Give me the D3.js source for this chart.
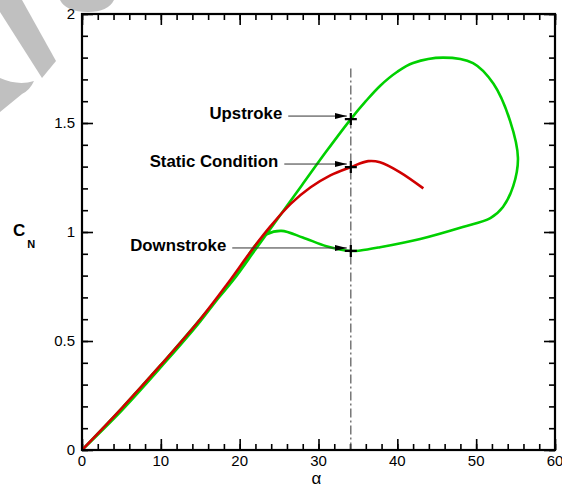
<!DOCTYPE html>
<html>
<head>
<meta charset="utf-8">
<script src="https://cdn.jsdelivr.net/npm/d3@7"></script>
<style>
  html, body { margin: 0; padding: 0; background: #fff; }
  svg { display: block; font-family: Arial, "Liberation Sans", sans-serif; }
</style>
</head>
<body>
<div id="chart"></div>
<script>
// static (red) curve
const staticAlpha = [0, 5, 10, 15, 18.4, 21.6, 24, 26.5, 29, 31.5, 34.1, 36.3, 37.8, 40.3, 43.3];
const staticCN = [0, 0.19, 0.39, 0.60, 0.76, 0.92, 1.03, 1.13, 1.205, 1.26, 1.298, 1.325, 1.32, 1.275, 1.20];

// dynamic (green) loop: upstroke then downstroke
const dynAlpha = [0, 5, 10, 15, 19.2, 22, 25, 28, 31, 34.1, 36, 37.8, 40, 42, 45.8, 49.6, 52.2, 54.3, 55.3,
  54.7, 53.4, 51.8, 48.3, 42.9, 37.8, 35.3, 34.1, 31, 28, 25.3, 23.5, 22, 20, 15, 10, 5, 0];
const dynCN = [0, 0.19, 0.39, 0.60, 0.78, 0.92, 1.07, 1.22, 1.37, 1.518, 1.60, 1.67, 1.735, 1.775, 1.80, 1.775, 1.68, 1.51, 1.34,
  1.21, 1.115, 1.064, 1.023, 0.968, 0.93, 0.915, 0.913, 0.935, 0.975, 1.005, 0.99, 0.94, 0.83, 0.59, 0.38, 0.18, 0];

// annotations
const annLabels = ["Upstroke", "Static Condition", "Downstroke"];
const annCN = [1.518, 1.298, 0.913];
const annTextEnd = [25.4, 24.9, 18.3]; // alpha where label text ends
const refAlpha = 34.1;
const refTop = 1.75;

const xTicks = [0, 10, 20, 30, 40, 50, 60];
const yTicks = [0, 0.5, 1, 1.5, 2];

const width = 562, height = 487;
const margin = { top: 14, right: 7, bottom: 37, left: 82 };

const svg = d3.select("#chart").append("svg")
  .attr("width", width)
  .attr("height", height);

// watermark shapes in background
const wm = svg.append("g").attr("fill", "#c0c0c0");
wm.append("path").attr("d", "M0,0 L22,0 L56,61 L42,78 L0,12 Z");
wm.append("path").attr("d", "M0,78 Q18,86 34,81 Q30,90 22,94 L0,112 Z");
wm.append("path").attr("d", "M60,0 L114,0 Q108,12 88,12 Q66,12 60,0 Z");

const x = d3.scaleLinear().domain([0, 60]).range([margin.left, width - margin.right]);
const y = d3.scaleLinear().domain([0, 2]).range([height - margin.bottom, margin.top]);

const x0 = x(0), x1 = x(60), y0 = y(0), y1 = y(2);

// ticks on all four sides, pointing inward
function tickAxis(axisFn, scale, pos, major, minorStep) {
  const minors = d3.range(scale.domain()[0], scale.domain()[1] + 1e-9, minorStep);
  const g = svg.append("g").attr("transform", pos);
  g.call(axisFn(scale).tickValues(minors).tickSize(-6).tickFormat(""));
  g.call(ga => ga.selectAll(".domain").remove());
  const g2 = svg.append("g").attr("transform", pos);
  g2.call(axisFn(scale).tickValues(major).tickSize(-11).tickFormat(""));
  g2.call(ga => ga.selectAll(".domain").remove());
  svg.selectAll(".tick line").attr("stroke", "#000").attr("stroke-width", 1.6);
}
tickAxis(d3.axisBottom, x, `translate(0,${y0})`, xTicks, 2);
tickAxis(d3.axisTop, x, `translate(0,${y1})`, xTicks, 2);
tickAxis(d3.axisLeft, y, `translate(${x0},0)`, yTicks, 0.1);
tickAxis(d3.axisRight, y, `translate(${x1},0)`, yTicks, 0.1);

// tick labels
svg.append("g").selectAll("text").data(xTicks).join("text")
  .attr("x", d => x(d)).attr("y", y0 + 16)
  .attr("text-anchor", "middle").attr("font-size", 15).attr("fill", "#000")
  .text(d => d);
svg.append("g").selectAll("text").data(yTicks).join("text")
  .attr("x", x0 - 7).attr("y", d => y(d) + 5)
  .attr("text-anchor", "end").attr("font-size", 15).attr("fill", "#000")
  .text(d => d);

// axis titles
svg.append("text").attr("x", x(30) - 2).attr("y", 484)
  .attr("text-anchor", "middle").attr("font-size", 17).text("α");
const cn = svg.append("text").attr("x", 13).attr("y", 236).attr("font-weight", "bold").attr("font-size", 17);
cn.append("tspan").text("C");
cn.append("tspan").attr("dx", 2).attr("dy", 12).attr("font-size", 11).text("N");

// reference dash-dot line
svg.append("line")
  .attr("x1", x(refAlpha)).attr("x2", x(refAlpha))
  .attr("y1", y(refTop)).attr("y2", y0)
  .attr("stroke", "#555").attr("stroke-width", 1.2)
  .attr("stroke-dasharray", "9,3,2,3");

const line = d3.line().curve(d3.curveCatmullRom.alpha(0.5));

svg.append("path")
  .attr("d", line(dynAlpha.map((a, i) => [x(a), y(dynCN[i])])))
  .attr("fill", "none").attr("stroke", "#00d000").attr("stroke-width", 2.6);

svg.append("path")
  .attr("d", line(staticAlpha.map((a, i) => [x(a), y(staticCN[i])])))
  .attr("fill", "none").attr("stroke", "#d00000").attr("stroke-width", 2.6);

// annotation arrows and labels
svg.append("defs").append("marker")
  .attr("id", "arrow").attr("viewBox", "0 0 12 8")
  .attr("refX", 12).attr("refY", 4)
  .attr("markerWidth", 12).attr("markerHeight", 8)
  .attr("markerUnits", "userSpaceOnUse").attr("orient", "auto")
  .append("path").attr("d", "M0,1 L12,4 L0,7 Z").attr("fill", "#000");

annLabels.forEach((lab, i) => {
  const py = y(annCN[i]);
  svg.append("text")
    .attr("x", x(annTextEnd[i])).attr("y", py)
    .attr("text-anchor", "end").attr("font-weight", "bold").attr("font-size", 16.8)
    .text(lab);
  svg.append("line")
    .attr("x1", x(annTextEnd[i]) + 6).attr("x2", x(refAlpha) - 4)
    .attr("y1", py - 3).attr("y2", py - 3)
    .attr("stroke", "#333").attr("stroke-width", 1)
    .attr("marker-end", "url(#arrow)");
  // plus marker
  svg.append("path")
    .attr("d", `M${x(refAlpha) - 6},${py} H${x(refAlpha) + 6} M${x(refAlpha)},${py - 6} V${py + 6}`)
    .attr("stroke", "#000").attr("stroke-width", 2.2);
});

// frame
svg.append("rect")
  .attr("x", x0).attr("y", y1)
  .attr("width", x1 - x0).attr("height", y0 - y1)
  .attr("fill", "none").attr("stroke", "#000").attr("stroke-width", 2.2);
</script>
</body>
</html>
